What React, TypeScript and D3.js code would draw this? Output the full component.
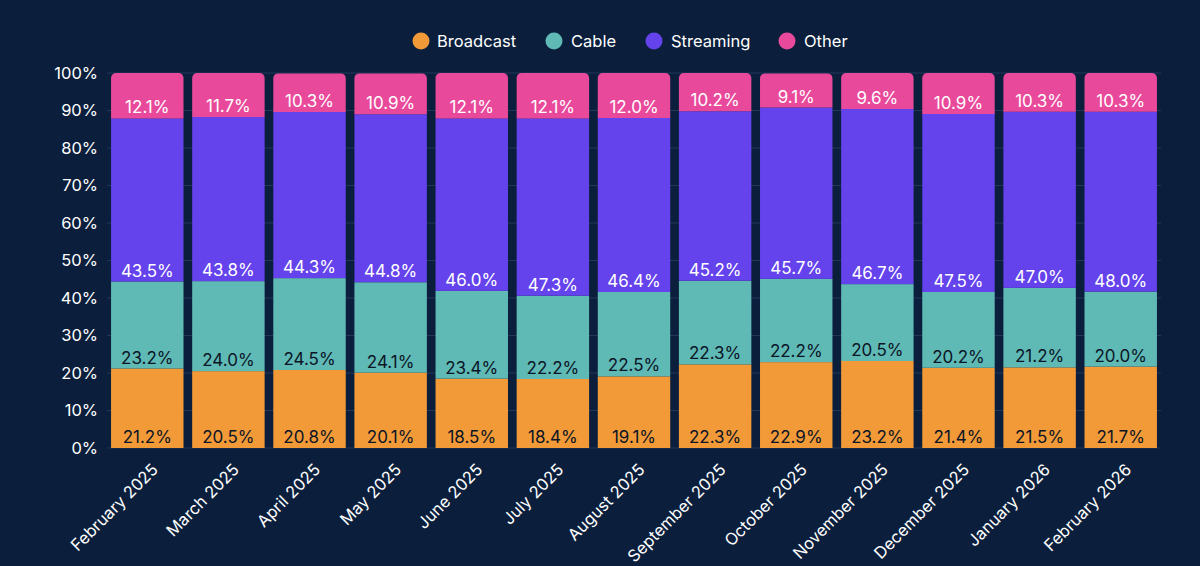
import React from "react";
import * as d3 from "d3";

const months = [
  "February 2025", "March 2025", "April 2025", "May 2025", "June 2025", "July 2025",
  "August 2025", "September 2025", "October 2025", "November 2025", "December 2025",
  "January 2026", "February 2026",
];
const broadcast = [21.2, 20.5, 20.8, 20.1, 18.5, 18.4, 19.1, 22.3, 22.9, 23.2, 21.4, 21.5, 21.7];
const cable = [23.2, 24.0, 24.5, 24.1, 23.4, 22.2, 22.5, 22.3, 22.2, 20.5, 20.2, 21.2, 20.0];
const streaming = [43.5, 43.8, 44.3, 44.8, 46.0, 47.3, 46.4, 45.2, 45.7, 46.7, 47.5, 47.0, 48.0];
const other = [12.1, 11.7, 10.3, 10.9, 12.1, 12.1, 12.0, 10.2, 9.1, 9.6, 10.9, 10.3, 10.3];
const yTicks = [0, 10, 20, 30, 40, 50, 60, 70, 80, 90, 100];

const seriesNames = ["Broadcast", "Cable", "Streaming", "Other"];
const seriesColors = ["#F29A38", "#5FB9B5", "#6442EC", "#E9499B"];
const labelColors = ["#0B1526", "#0B1526", "#FFFFFF", "#FFFFFF"];

const W = 1200, H = 566;
const BG = "#0B1F3D";
const FONT = "Inter, 'Noto Sans', sans-serif";

export default function App() {
  const x = d3.scaleBand<string>().domain(months).range([107, 1161]).paddingInner(0.107).paddingOuter(0.05);
  const y = d3.scaleLinear().domain([0, 100]).range([448, 73]);

  const rows = months.map((m, i) => ({
    month: m,
    Broadcast: broadcast[i],
    Cable: cable[i],
    Streaming: streaming[i],
    Other: other[i],
  }));
  const stack = d3.stack<any>().keys(seriesNames);
  const layers = stack(rows);

  const r = 5;
  const topRoundedRect = (x0: number, y0: number, w: number, h: number) => {
    const p = d3.path();
    p.moveTo(x0, y0 + h);
    p.lineTo(x0, y0 + r);
    p.arcTo(x0, y0, x0 + r, y0, r);
    p.lineTo(x0 + w - r, y0);
    p.arcTo(x0 + w, y0, x0 + w, y0 + r, r);
    p.lineTo(x0 + w, y0 + h);
    p.closePath();
    return p.toString();
  };

  const legendItems = [
    { cx: 421, tx: 437 },
    { cx: 554, tx: 571 },
    { cx: 654, tx: 671 },
    { cx: 787, tx: 804 },
  ];

  return (
    <svg width={W} height={H} style={{ display: "block", position: "absolute", left: 0, top: 0 }}>
      <rect x={0} y={0} width={W} height={H} fill={BG} />
      {/* legend */}
      {seriesNames.map((s, i) => (
        <g key={s}>
          <circle cx={legendItems[i].cx} cy={41} r={8.5} fill={seriesColors[i]} />
          <text x={legendItems[i].tx} y={47} fill="#FFFFFF" fontSize={16.5} fontFamily={FONT}>{s}</text>
        </g>
      ))}
      {/* grid */}
      {yTicks.map((t) => (
        <line key={t} x1={107} x2={1161} y1={y(t)} y2={y(t)} stroke="#22385A" strokeWidth={1} />
      ))}
      {/* y axis labels */}
      {yTicks.map((t) => (
        <text key={t} x={98} y={y(t)} dy="0.36em" textAnchor="end" fill="#FFFFFF" fontSize={16.5} fontFamily={FONT}>
          {t}%
        </text>
      ))}
      {/* bars */}
      {layers.map((layer, li) => (
        <g key={layer.key}>
          {layer.map((d, i) => {
            const x0 = x(months[i]) as number;
            const w = x.bandwidth();
            const yTop = y(d[1]);
            const yBot = y(d[0]);
            const isTop = li === layers.length - 1;
            return isTop ? (
              <path key={i} d={topRoundedRect(x0, yTop, w, yBot - yTop)} fill={seriesColors[li]} />
            ) : (
              <rect key={i} x={x0} y={yTop} width={w} height={yBot - yTop} fill={seriesColors[li]} />
            );
          })}
        </g>
      ))}
      {/* value labels */}
      {layers.map((layer, li) => (
        <g key={"l" + layer.key}>
          {layer.map((d, i) => {
            const cx = (x(months[i]) as number) + x.bandwidth() / 2;
            const val = [broadcast, cable, streaming, other][li][i];
            return (
              <text key={i} x={cx} y={y(d[0]) - 5} textAnchor="middle" fill={labelColors[li]} fontSize={17} fontFamily={FONT}>
                {val.toFixed(1)}%
              </text>
            );
          })}
        </g>
      ))}
      {/* x labels */}
      {months.map((m) => {
        const cx = (x(m) as number) + x.bandwidth() / 2;
        return (
          <text
            key={m}
            transform={`translate(${cx + 3},${462}) rotate(-45)`}
            textAnchor="end"
            dy="0.75em"
            fill="#FFFFFF"
            fontSize={16.5}
            fontFamily={FONT}
          >
            {m}
          </text>
        );
      })}
    </svg>
  );
}
